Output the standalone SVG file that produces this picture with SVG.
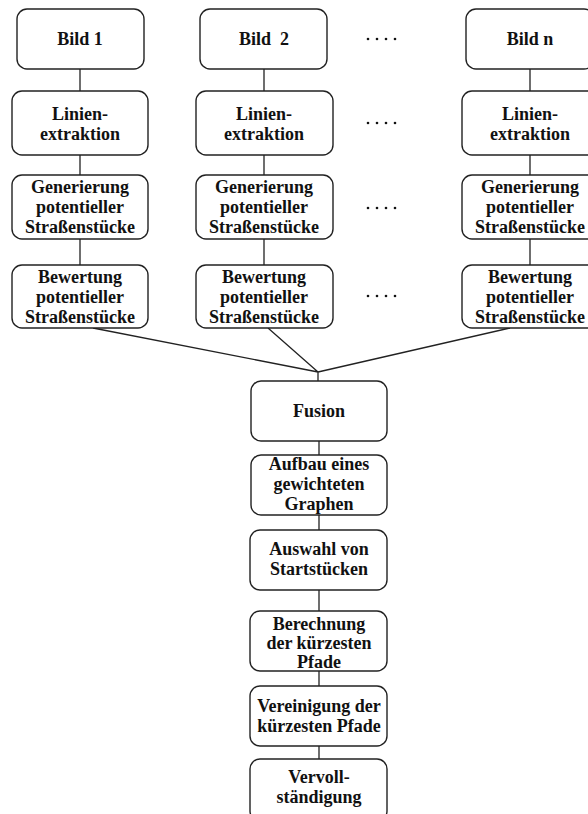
<svg xmlns="http://www.w3.org/2000/svg" width="588" height="814" viewBox="0 0 588 814">
<style>
.box{fill:#fff;stroke:#222;stroke-width:1.4}
.t{font-family:"Liberation Serif","Times New Roman",serif;font-weight:bold;font-size:18px;fill:#111;text-anchor:middle}
.c{stroke:#222;stroke-width:1.3;fill:none}
.d{fill:#111}
</style>
<rect width="588" height="814" fill="#fff"/>
<g id="connectors">
<path class="c" d="M80 69V91M80 155V175M80 239V265"/>
<path class="c" d="M264 69V91M264 155V175M264 239V265"/>
<path class="c" d="M530 69V91M530 155V175M530 239V265"/>
<path class="c" d="M93 328L318 372M268 328L318 372M510 328L318 372M318 372V381"/>
<path class="c" d="M319 441V455M319 515V530M319 590V611M319 671V686M319 746V759"/>
</g>
<g id="bild1"><rect class="box" x="17" y="9" width="127" height="60" rx="10"/><text class="t" x="80" y="45">Bild 1</text></g>
<g id="linien1"><rect class="box" x="12" y="91" width="136" height="64" rx="10"/><text class="t" x="80" y="120">Linien-</text><text class="t" x="80" y="140">extraktion</text></g>
<g id="gen1"><rect class="box" x="12" y="175" width="136" height="64" rx="10"/><text class="t" x="80" y="193">Generierung</text><text class="t" x="80" y="213">potentieller</text><text class="t" x="80" y="233">Straßenstücke</text></g>
<g id="bew1"><rect class="box" x="12" y="265" width="136" height="63" rx="10"/><text class="t" x="80" y="283">Bewertung</text><text class="t" x="80" y="303">potentieller</text><text class="t" x="80" y="323">Straßenstücke</text></g>

<g id="bild2"><rect class="box" x="200" y="9" width="127" height="60" rx="10"/><text class="t" x="264" y="45" xml:space="preserve">Bild  2</text></g>
<g id="linien2"><rect class="box" x="196" y="91" width="137" height="64" rx="10"/><text class="t" x="264" y="120">Linien-</text><text class="t" x="264" y="140">extraktion</text></g>
<g id="gen2"><rect class="box" x="196" y="175" width="137" height="64" rx="10"/><text class="t" x="264" y="193">Generierung</text><text class="t" x="264" y="213">potentieller</text><text class="t" x="264" y="233">Straßenstücke</text></g>
<g id="bew2"><rect class="box" x="196" y="265" width="137" height="63" rx="10"/><text class="t" x="264" y="283">Bewertung</text><text class="t" x="264" y="303">potentieller</text><text class="t" x="264" y="323">Straßenstücke</text></g>

<g id="bildn"><rect class="box" x="466" y="9" width="128" height="60" rx="10"/><text class="t" x="530" y="45">Bild n</text></g>
<g id="linienn"><rect class="box" x="462" y="91" width="137" height="64" rx="10"/><text class="t" x="530" y="120">Linien-</text><text class="t" x="530" y="140">extraktion</text></g>
<g id="genn"><rect class="box" x="462" y="175" width="137" height="64" rx="10"/><text class="t" x="530" y="193">Generierung</text><text class="t" x="530" y="213">potentieller</text><text class="t" x="530" y="233">Straßenstücke</text></g>
<g id="bewn"><rect class="box" x="462" y="265" width="137" height="63" rx="10"/><text class="t" x="530" y="283">Bewertung</text><text class="t" x="530" y="303">potentieller</text><text class="t" x="530" y="323">Straßenstücke</text></g>

<g id="dots">
<g class="d"><circle cx="368" cy="39" r="1.3"/><circle cx="377" cy="39" r="1.3"/><circle cx="386" cy="39" r="1.3"/><circle cx="395" cy="39" r="1.3"/></g>
<g class="d"><circle cx="368" cy="123" r="1.3"/><circle cx="377" cy="123" r="1.3"/><circle cx="386" cy="123" r="1.3"/><circle cx="395" cy="123" r="1.3"/></g>
<g class="d"><circle cx="368" cy="208" r="1.3"/><circle cx="377" cy="208" r="1.3"/><circle cx="386" cy="208" r="1.3"/><circle cx="395" cy="208" r="1.3"/></g>
<g class="d"><circle cx="368" cy="296" r="1.3"/><circle cx="377" cy="296" r="1.3"/><circle cx="386" cy="296" r="1.3"/><circle cx="395" cy="296" r="1.3"/></g>
</g>

<g id="fusion"><rect class="box" x="251" y="381" width="136" height="60" rx="10"/><text class="t" x="319" y="417">Fusion</text></g>
<g id="aufbau"><rect class="box" x="251" y="455" width="136" height="60" rx="10"/><text class="t" x="319" y="470">Aufbau eines</text><text class="t" x="319" y="490">gewichteten</text><text class="t" x="319" y="510">Graphen</text></g>
<g id="auswahl"><rect class="box" x="250" y="530" width="137" height="60" rx="10"/><text class="t" x="319" y="555">Auswahl von</text><text class="t" x="319" y="575">Startstücken</text></g>
<g id="berechnung"><rect class="box" x="250" y="611" width="137" height="60" rx="10"/><text class="t" x="319" y="630">Berechnung</text><text class="t" x="319" y="649">der kürzesten</text><text class="t" x="319" y="668">Pfade</text></g>
<g id="vereinigung"><rect class="box" x="250" y="686" width="137" height="60" rx="10"/><text class="t" x="319" y="712">Vereinigung der</text><text class="t" x="319" y="732">kürzesten Pfade</text></g>
<g id="vervoll"><rect class="box" x="250" y="759" width="137" height="62" rx="10"/><text class="t" x="319" y="783">Vervoll-</text><text class="t" x="319" y="803">ständigung</text></g>
</svg>
